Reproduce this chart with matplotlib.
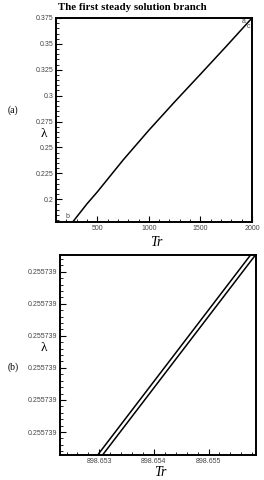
import numpy as np
import matplotlib
matplotlib.use("Agg")
import matplotlib.pyplot as plt
from matplotlib.ticker import AutoMinorLocator, FormatStrFormatter, FixedLocator

# panel (a): first steady solution branch
tr_a = [262, 400, 500, 750, 1000, 1250, 1500, 1750, 2000]
lam_a = [0.178, 0.1955, 0.207, 0.2378, 0.2666, 0.2940, 0.3207, 0.3476, 0.375]

# panel (b): zoom near Tr ~ 898.654, two near-parallel lines
tr_b1 = [898.65297, 898.65577]
tr_b2 = [898.65306, 898.65586]
lam_b_base = 0.25573900
lam_b_step = 2e-9
lam_b_ticks = [lam_b_base + i * lam_b_step for i in range(6)]

W, H = 264, 480
fig = plt.figure(figsize=(W / 100, H / 100), dpi=100)

serif = ["Liberation Serif", "DejaVu Serif"]
sans = ["Liberation Sans", "DejaVu Sans"]

def style(ax):
    for s in ax.spines.values():
        s.set_linewidth(1.4)
    ax.tick_params(which="both", direction="in", top=False, right=False,
                   labelsize=5, labelcolor="#444444", pad=2)
    ax.tick_params(which="major", length=4, width=0.8)
    ax.tick_params(which="minor", length=2, width=0.6)
    ax.xaxis.set_minor_locator(AutoMinorLocator(5))
    ax.yaxis.set_minor_locator(AutoMinorLocator(5))
    for lab in ax.get_xticklabels() + ax.get_yticklabels():
        lab.set_family(sans)

# (a)
ax1 = fig.add_axes([56 / W, 1 - 222 / H, 196 / W, 204 / H])
ax1.plot(tr_a, lam_a, color="black", lw=1.1)
ax1.set_xlim(100, 2000)
ax1.set_ylim(0.178, 0.375)
ax1.set_xticks([500, 1000, 1500, 2000])
ax1.set_yticks([0.2, 0.225, 0.25, 0.275, 0.3, 0.325, 0.35, 0.375])
ax1.set_yticklabels(["0.2", "0.225", "0.25", "0.275", "0.3", "0.325", "0.35", "0.375"])
style(ax1)
ax1.text(1905, 0.3705, "a", fontsize=5, family=sans, color="#444444")
ax1.text(1945, 0.3655, "c", fontsize=5, family=sans, color="#444444")
ax1.text(190, 0.182, "b", fontsize=5, family=sans, color="#444444")
fig.text(132 / W, 1 - 8 / H, "The first steady solution branch", fontsize=7.8,
         fontweight="bold", family=serif, ha="center", va="center")
fig.text(44 / W, 1 - 134 / H, "λ", fontsize=9.5, family=serif, ha="center", va="center")
fig.text(13 / W, 1 - 110 / H, "(a)", fontsize=7, family=serif, ha="center", va="center")
fig.text(156 / W, 1 - 243 / H, "Tr", fontsize=10, family=serif, style="italic",
         ha="center", va="center")

# (b)
ax2 = fig.add_axes([60 / W, 1 - 455 / H, 196 / W, 200 / H])
ylo = lam_b_base - 23 / 32.1 * lam_b_step
yhi = lam_b_base + 5 * lam_b_step + 16.7 / 32.1 * lam_b_step
ax2.plot(tr_b1, [ylo, yhi], color="black", lw=1.1)
ax2.plot(tr_b2, [ylo, yhi], color="black", lw=1.1)
ax2.set_xlim(898.65228, 898.65587)
ax2.set_ylim(ylo, yhi)
ax2.set_xticks([898.653, 898.654, 898.655])
ax2.xaxis.set_major_formatter(FormatStrFormatter("%.3f"))
ax2.yaxis.set_major_locator(FixedLocator(lam_b_ticks))
ax2.yaxis.set_major_formatter(FormatStrFormatter("%.6f"))
style(ax2)
fig.text(44 / W, 1 - 348 / H, "λ", fontsize=9.5, family=serif, ha="center", va="center")
fig.text(13 / W, 1 - 367 / H, "(b)", fontsize=7, family=serif, ha="center", va="center")
fig.text(160 / W, 1 - 473 / H, "Tr", fontsize=10, family=serif, style="italic",
         ha="center", va="center")

fig.savefig("out.png", dpi=100)
